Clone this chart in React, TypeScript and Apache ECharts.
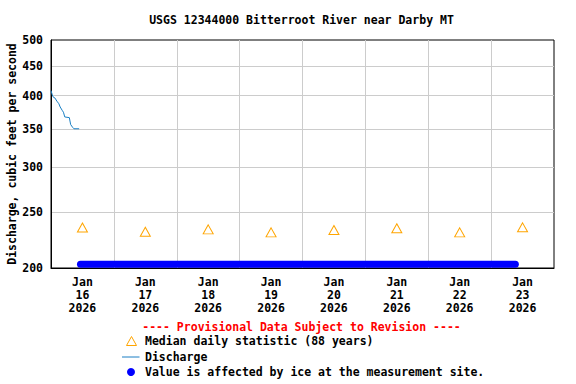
import React, { useEffect, useRef } from 'react';
import * as echarts from 'echarts';

const FONT = '"DejaVu Sans Mono", "Liberation Mono", monospace';

const titleText = 'USGS 12344000 Bitterroot River near Darby MT';
const yAxisTitle = 'Discharge, cubic feet per second';
const provisionalText = '---- Provisional Data Subject to Revision ----';
const medianName = 'Median daily statistic (88 years)';
const dischargeName = 'Discharge';
const iceName = 'Value is affected by ice at the measurement site.';

const monthNames = ['Jan', 'Feb', 'Mar', 'Apr', 'May', 'Jun', 'Jul', 'Aug', 'Sep', 'Oct', 'Nov', 'Dec'];

const xStart = '2026-01-16T00:00';
const xEnd = '2026-01-24T00:00';
const dayGridLines = [
  '2026-01-17T00:00', '2026-01-18T00:00', '2026-01-19T00:00', '2026-01-20T00:00',
  '2026-01-21T00:00', '2026-01-22T00:00', '2026-01-23T00:00',
];
const dayLabelTimes = [
  '2026-01-16T12:00', '2026-01-17T12:00', '2026-01-18T12:00', '2026-01-19T12:00',
  '2026-01-20T12:00', '2026-01-21T12:00', '2026-01-22T12:00', '2026-01-23T12:00',
];
const yMin = 200;
const yMax = 500;
const yTickLabels = [200, 250, 300, 350, 400, 450, 500];
const yGridLines = [250, 300, 350, 400, 450];

const dischargeTimes = [
  '2026-01-16T00:00', '2026-01-16T00:30', '2026-01-16T00:45', '2026-01-16T01:30',
  '2026-01-16T02:15', '2026-01-16T03:00', '2026-01-16T03:30', '2026-01-16T04:15',
  '2026-01-16T04:45', '2026-01-16T05:15', '2026-01-16T07:00', '2026-01-16T07:30',
  '2026-01-16T08:15', '2026-01-16T08:45', '2026-01-16T10:45',
];
const dischargeValues = [408, 401, 398, 396, 391, 387, 382, 377, 374, 367, 366, 356, 352, 350, 350];

const medianTimes = [
  '2026-01-16T12:00', '2026-01-17T12:00', '2026-01-18T12:00', '2026-01-19T12:00',
  '2026-01-20T12:00', '2026-01-21T12:00', '2026-01-22T12:00', '2026-01-23T12:00',
];
const medianValues = [235.3, 231.4, 233.6, 230.8, 233.0, 234.6, 230.8, 235.5];

const iceTimes = ['2026-01-16T11:15', '2026-01-23T09:15'];
const iceValues = [203, 203];

const ts = (s: string) => new Date(s).getTime();

const MEDIAN_COLOR = '#ffa500';
const DISCHARGE_COLOR = '#1a7fc4';
const ICE_COLOR = '#0000ff';

export default function App() {
  const ref = useRef<HTMLDivElement>(null);

  useEffect(() => {
    if (!ref.current) return;
    const chart = echarts.init(ref.current, null, { renderer: 'svg' });
    const labelStyle = { fontFamily: FONT, fontSize: 11.5, fontWeight: 'bold' as const, color: '#000' };
    const textStyle = (text: string, fill = '#000') => ({
      text, fontFamily: FONT, fontSize: 11.5, fontWeight: 'bold', fill,
    });

    const legendX = 145;
    const legendRows = [341, 356.5, 372];

    chart.setOption({
      animation: false,
      backgroundColor: '#fff',
      grid: {
        left: 51, right: 22, top: 40, bottom: 116,
        outerBoundsMode: 'none',
        containLabel: false,
        show: true, borderColor: '#000', borderWidth: 1, backgroundColor: 'transparent',
      },
      xAxis: {
        type: 'value',
        min: ts(xStart),
        max: ts(xEnd),
        axisLine: { show: true, onZero: false, lineStyle: { color: '#000', width: 1 } },
        axisTick: { show: false, customValues: dayGridLines.map(ts) },
        splitLine: { show: true, lineStyle: { color: '#cccccc', width: 1 } },
        axisLabel: {
          ...labelStyle,
          customValues: dayLabelTimes.map(ts),
          margin: 8,
          lineHeight: 12.7,
          align: 'center',
          formatter: (v: number) => {
            const d = new Date(v);
            return `${monthNames[d.getMonth()]}\n${d.getDate()}\n${d.getFullYear()}`;
          },
        },
      },
      yAxis: {
        type: 'log',
        logBase: 10,
        min: yMin,
        max: yMax,
        name: yAxisTitle,
        nameLocation: 'middle',
        nameGap: 33.5,
        nameMoveOverlap: false,
        nameTextStyle: { ...labelStyle },
        axisLine: { show: true, lineStyle: { color: '#000', width: 1 } },
        axisTick: { show: false, customValues: yGridLines },
        splitLine: { show: true, lineStyle: { color: '#cccccc', width: 1 } },
        axisLabel: {
          ...labelStyle,
          customValues: yTickLabels,
          margin: 8,
          formatter: (v: number) => String(Math.round(v)),
        },
      },
      graphic: [
        {
          type: 'text',
          x: 301.5,
          y: 20,
          style: { ...textStyle(titleText), align: 'center', verticalAlign: 'middle' },
        },
        {
          type: 'text',
          x: 301.5,
          y: 327,
          style: { ...textStyle(provisionalText, '#ff0000'), align: 'center', verticalAlign: 'middle' },
        },
        {
          type: 'polygon',
          shape: { points: [[131.5, legendRows[0] - 4.5], [136.5, legendRows[0] + 4.5], [126.5, legendRows[0] + 4.5]] },
          style: { fill: '#fff', stroke: MEDIAN_COLOR, lineWidth: 1 },
        },
        {
          type: 'text', x: legendX, y: legendRows[0],
          style: { ...textStyle(medianName), align: 'left', verticalAlign: 'middle' },
        },
        {
          type: 'line',
          shape: { x1: 122, y1: legendRows[1] + 0.5, x2: 139.5, y2: legendRows[1] + 0.5 },
          style: { stroke: DISCHARGE_COLOR, lineWidth: 1 },
        },
        {
          type: 'text', x: legendX, y: legendRows[1],
          style: { ...textStyle(dischargeName), align: 'left', verticalAlign: 'middle' },
        },
        {
          type: 'circle',
          shape: { cx: 131, cy: legendRows[2], r: 4 },
          style: { fill: ICE_COLOR },
        },
        {
          type: 'text', x: legendX, y: legendRows[2],
          style: { ...textStyle(iceName), align: 'left', verticalAlign: 'middle' },
        },
      ],
      series: [
        {
          name: iceName,
          type: 'line',
          symbol: 'none',
          data: iceTimes.map((t, i) => [ts(t), iceValues[i]]),
          lineStyle: { color: ICE_COLOR, width: 7, cap: 'round' },
          itemStyle: { color: ICE_COLOR },
          z: 3,
        },
        {
          name: dischargeName,
          type: 'line',
          symbol: 'none',
          data: dischargeTimes.map((t, i) => [ts(t), dischargeValues[i]]),
          lineStyle: { color: DISCHARGE_COLOR, width: 1 },
          itemStyle: { color: DISCHARGE_COLOR },
          z: 4,
        },
        {
          name: medianName,
          type: 'scatter',
          symbol: 'triangle',
          symbolSize: [10, 9],
          data: medianTimes.map((t, i) => [ts(t), medianValues[i]]),
          itemStyle: { color: '#ffffff', borderColor: MEDIAN_COLOR, borderWidth: 1, opacity: 1 },
          z: 5,
        },
      ],
    });

    return () => chart.dispose();
  }, []);

  return (
    <div
      ref={ref}
      style={{ position: 'absolute', left: 0, top: 0, width: 576, height: 384 }}
    />
  );
}
